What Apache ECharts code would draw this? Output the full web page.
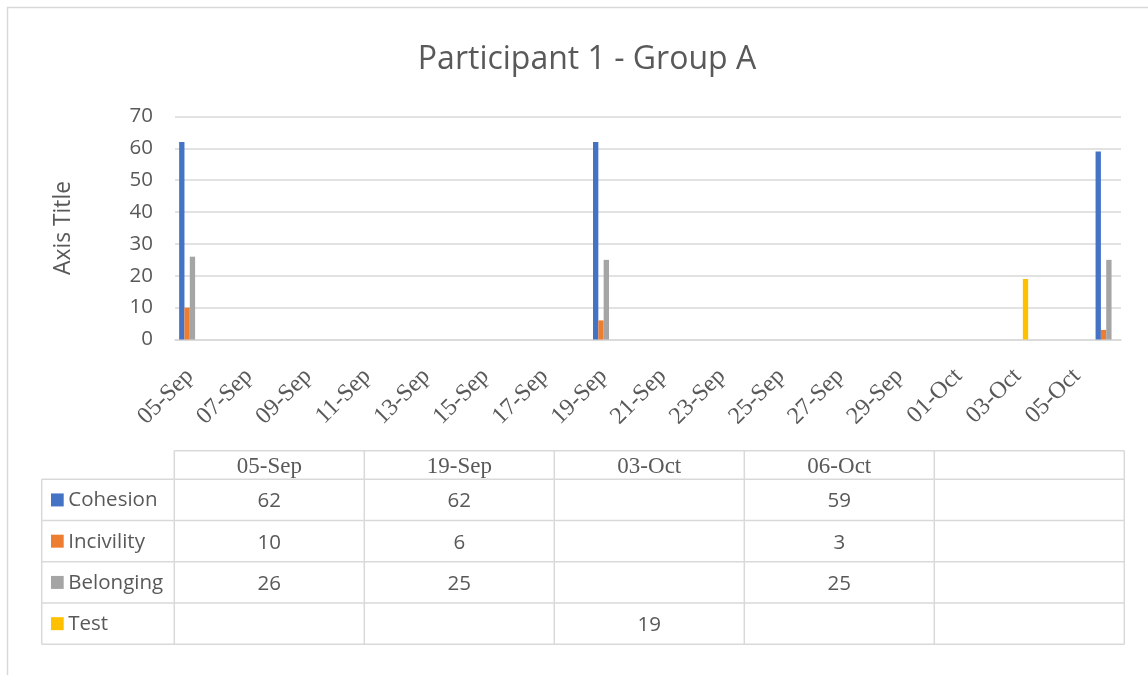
<!DOCTYPE html>
<html>
<head>
<meta charset="utf-8">
<script src="https://cdn.jsdelivr.net/npm/echarts@6/dist/echarts.min.js"></script>
<style>
  html, body { margin: 0; padding: 0; background: #ffffff; }
  #chart { width: 1148px; height: 675px; }
</style>
</head>
<body>
<div id="chart"></div>
<script>
// Daily categories along the date axis
const days = [
  '05-Sep','06-Sep','07-Sep','08-Sep','09-Sep','10-Sep','11-Sep','12-Sep',
  '13-Sep','14-Sep','15-Sep','16-Sep','17-Sep','18-Sep','19-Sep','20-Sep',
  '21-Sep','22-Sep','23-Sep','24-Sep','25-Sep','26-Sep','27-Sep','28-Sep',
  '29-Sep','30-Sep','01-Oct','02-Oct','03-Oct','04-Oct','05-Oct','06-Oct'
];

// Measurement dates and values per series
const tableDates = ['05-Sep', '19-Sep', '03-Oct', '06-Oct'];
const cohesion   = [62, 62, null, 59];
const incivility = [10, 6, null, 3];
const belonging  = [26, 25, null, 25];
const test       = [null, null, 19, null];

const seriesNames  = ['Cohesion', 'Incivility', 'Belonging', 'Test'];
const seriesValues = [cohesion, incivility, belonging, test];
const seriesColors = ['#4472C4', '#ED7D31', '#A5A5A5', '#FFC000'];

const yTicks = { min: 0, max: 70, interval: 10 };

const TEXT = '#595959';
const RULE = '#D9D9D9';
const SANS = '"Open Sans", "Noto Sans", sans-serif';
const SERIF = '"Liberation Serif", "DejaVu Serif", serif';

// Spread each series onto the daily axis
function onDays(values) {
  return days.map(d => {
    const i = tableDates.indexOf(d);
    return i >= 0 ? values[i] : null;
  });
}

const series = seriesNames.map((name, s) => ({
  name: name,
  type: 'bar',
  data: onDays(seriesValues[s]),
  itemStyle: { color: seriesColors[s] },
  barGap: '0%',
  barCategoryGap: '28%',
  animation: false
}));

// ---- data table under the plot ----
const tbl = {
  left: 41.7,
  labelRight: 174.3,
  colW: 190,
  nCols: 5,
  headTop: 450.7,
  headBottom: 479.3,
  rowH: 41.25
};
const tblRight = tbl.labelRight + tbl.colW * tbl.nCols;
const tblBottom = tbl.headBottom + tbl.rowH * seriesNames.length;

const graphics = [];

// frame around the chart area
graphics.push({
  type: 'rect',
  shape: { x: 7.5, y: 7.5, width: 1200, height: 720 },
  style: { fill: 'none', stroke: RULE, lineWidth: 1.5 },
  silent: true
});

function hline(y, x1, x2) {
  graphics.push({ type: 'line', shape: { x1: x1, y1: y, x2: x2, y2: y },
    style: { stroke: RULE, lineWidth: 1.5 }, silent: true });
}
function vline(x, y1, y2) {
  graphics.push({ type: 'line', shape: { x1: x, y1: y1, x2: x, y2: y2 },
    style: { stroke: RULE, lineWidth: 1.5 }, silent: true });
}
function text(str, x, y, font, align) {
  graphics.push({ type: 'text', x: x, y: y, silent: true,
    style: { text: str, fill: TEXT, font: font,
      textAlign: align, align: align,
      textVerticalAlign: 'middle', verticalAlign: 'middle' } });
}

hline(tbl.headTop, tbl.labelRight, tblRight);
for (let r = 0; r <= seriesNames.length; r++) {
  hline(tbl.headBottom + r * tbl.rowH, tbl.left, tblRight);
}
vline(tbl.left, tbl.headBottom, tblBottom);
for (let c = 0; c <= tbl.nCols; c++) {
  vline(tbl.labelRight + c * tbl.colW, tbl.headTop, tblBottom);
}

// header dates
tableDates.forEach((d, c) => {
  text(d, tbl.labelRight + tbl.colW * (c + 0.5), (tbl.headTop + tbl.headBottom) / 2 + 2,
    '23px ' + SERIF, 'center');
});

// rows: legend key, name, values
seriesNames.forEach((name, r) => {
  const cy = tbl.headBottom + tbl.rowH * (r + 0.5);
  graphics.push({ type: 'rect', silent: true,
    shape: { x: 51, y: cy - 6.5, width: 12.7, height: 13 },
    style: { fill: seriesColors[r] } });
  text(name, 68.3, cy + 0.5, '20.5px ' + SANS, 'left');
  seriesValues[r].forEach((v, c) => {
    if (v !== null) {
      text(String(v), tbl.labelRight + tbl.colW * (c + 0.5), cy + 1.5,
        '20.5px ' + SANS, 'center');
    }
  });
});

const chart = echarts.init(document.getElementById('chart'), null, { renderer: 'canvas' });
chart.setOption({
  backgroundColor: '#ffffff',
  animation: false,
  title: {
    text: 'Participant 1 - Group A',
    left: 582,
    top: 39,
    textAlign: 'center',
    textStyle: { color: TEXT, fontFamily: SANS, fontSize: 32, fontWeight: 'normal' }
  },
  grid: { left: 175, top: 116.5, width: 946, height: 223, containLabel: false },
  xAxis: {
    type: 'category',
    data: days,
    axisTick: { show: false },
    axisLine: { lineStyle: { color: RULE, width: 1.5 } },
    axisLabel: {
      interval: 1,
      rotate: 45,
      margin: 33,
      color: TEXT,
      fontFamily: SERIF,
      fontSize: 24
    },
    splitLine: { show: false }
  },
  yAxis: {
    type: 'value',
    min: yTicks.min,
    max: yTicks.max,
    interval: yTicks.interval,
    name: 'Axis Title',
    nameLocation: 'middle',
    nameGap: 100,
    nameRotate: 90,
    nameTextStyle: { color: TEXT, fontFamily: SANS, fontSize: 22.8 },
    axisLine: { show: false },
    axisTick: { show: false },
    axisLabel: { color: TEXT, fontFamily: SANS, fontSize: 20.5, margin: 22, padding: [4, 0, 0, 0] },
    splitLine: { lineStyle: { color: RULE, width: 1.5 } }
  },
  series: series,
  graphic: { elements: graphics }
});
</script>
</body>
</html>
